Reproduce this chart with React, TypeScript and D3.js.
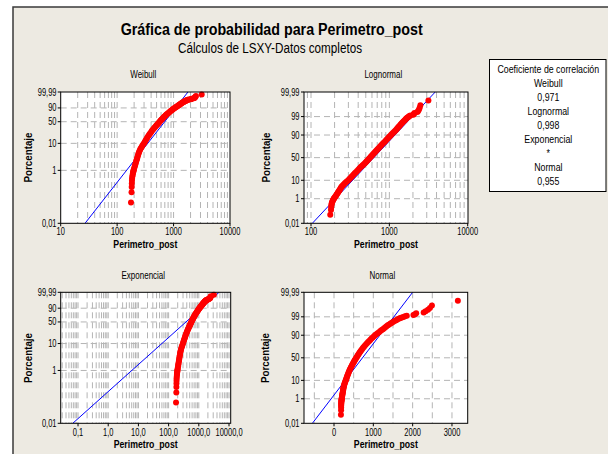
import React from 'react';
import * as d3 from 'd3';

// ---- data ----
const N = 1150; // sample size (approx.)
const rank = [
  1, 2, 3, 4, 5, 6, 7, 8, 9, 10, 11, 12, 13, 15, 17, 19, 21, 24, 27, 30, 34, 38, 43, 48, 54, 60, 67, 75, 84, 94,
  105, 117, 130, 145, 160, 177, 195, 215, 237, 260, 285, 310, 335, 360, 385, 410, 435, 460, 485, 510, 535, 560,
  592, 617, 642, 667, 692, 717, 742, 767, 792, 817, 842, 867, 892, 915, 937, 957, 975, 992, 1007, 1021, 1034,
  1046, 1057, 1067, 1076, 1084, 1091, 1097, 1103, 1108, 1113, 1117, 1121, 1124, 1127, 1130, 1132, 1134, 1136,
  1137, 1138, 1139, 1140, 1141, 1142, 1143, 1144, 1145, 1146, 1147, 1148, 1149, 1150,
];
const perimetro = [
  176, 180, 181, 182, 183, 184, 186, 188, 190, 192, 194, 196, 198, 202, 206, 209, 212, 216, 220, 223, 227, 231,
  235, 239, 243, 248, 255, 261, 270, 279, 289, 300, 309, 319, 329, 339, 350, 362, 374, 387, 401, 414, 428, 443,
  457, 472, 487, 501, 514, 528, 543, 557,
  576, 591, 607, 623, 640, 657, 675, 693, 713, 734, 757, 782, 810, 839, 868, 897, 925, 955, 983, 1013, 1043,
  1076, 1110, 1145, 1179, 1213, 1245, 1274, 1306, 1336, 1369, 1401, 1439, 1472, 1508, 1550, 1583, 1620, 1661,
  1690, 1725, 1765, 1805, 1850, 2020, 2060, 2090, 2280, 2330, 2390, 2440, 2490, 3150,
];

const distNames = ['Weibull', 'Lognormal', 'Exponencial', 'Normal'];
const corrValues = ['0,971', '0,998', '*', '0,955'];

// fitted lines: value at 0,01 % and at 99,99 %
const fitWeibull = [27, 1800];
const fitLognormal = [104, 3850];
const fitExponencial = [0.067, 4700];
const fitNormal = [-550, 2000];

const pctTicksA = [0.01, 1, 10, 50, 90, 99.99];
const pctLabelsA = ['0,01', '1', '10', '50', '90', '99,99'];
const pctTicksB = [0.01, 1, 10, 50, 90, 99, 99.99];
const pctLabelsB = ['0,01', '1', '10', '50', '90', '99', '99,99'];
const gridPctA = [1, 10, 50, 90];
const gridPctB = [1, 10, 50, 90, 99];

const weibullXTicks = [10, 100, 1000, 10000];
const weibullXLabels = ['10', '100', '1000', '10000'];
const lognormalXTicks = [100, 1000, 10000];
const lognormalXLabels = ['100', '1000', '10000'];
const expXTicks = [0.1, 1, 10, 100, 1000, 10000];
const expXLabels = ['0,1', '1,0', '10,0', '100,0', '1000,0', '10000,0'];
const normalXTicks = [0, 1000, 2000, 3000];
const normalXLabels = ['0', '1000', '2000', '3000'];
const normalXGrid = [-500, 0, 500, 1000, 1500, 2000, 2500, 3000];

// ---- helpers ----
function probit(p: number): number {
  const a = [-3.969683028665376e1, 2.209460984245205e2, -2.759285104469687e2, 1.38357751867269e2, -3.066479806614716e1, 2.506628277459239];
  const b = [-5.447609879822406e1, 1.615858368580409e2, -1.556989798598866e2, 6.680131188771972e1, -1.328068155288572e1];
  const c = [-7.784894002430293e-3, -3.223964580411365e-1, -2.400758277161838, -2.549732539343734, 4.374664141464968, 2.938163982698783];
  const d = [7.784695709041462e-3, 3.224671290700398e-1, 2.445134137142996, 3.754408661907416];
  const pl = 0.02425;
  if (p < pl) {
    const q = Math.sqrt(-2 * Math.log(p));
    return (((((c[0] * q + c[1]) * q + c[2]) * q + c[3]) * q + c[4]) * q + c[5]) / ((((d[0] * q + d[1]) * q + d[2]) * q + d[3]) * q + 1);
  }
  if (p > 1 - pl) {
    const q = Math.sqrt(-2 * Math.log(1 - p));
    return -(((((c[0] * q + c[1]) * q + c[2]) * q + c[3]) * q + c[4]) * q + c[5]) / ((((d[0] * q + d[1]) * q + d[2]) * q + d[3]) * q + 1);
  }
  const q = p - 0.5, r = q * q;
  return (((((a[0] * r + a[1]) * r + a[2]) * r + a[3]) * r + a[4]) * r + a[5]) * q / (((((b[0] * r + b[1]) * r + b[2]) * r + b[3]) * r + b[4]) * r + 1);
}
const sev = (p: number) => Math.log(-Math.log(1 - p));

function logGrid(domain: number[]) {
  const out: number[] = [];
  const lo = Math.floor(Math.log10(domain[0]));
  const hi = Math.ceil(Math.log10(domain[1]));
  for (let e = lo; e <= hi; e++) {
    for (let k = 1; k <= 9; k++) {
      const v = k * Math.pow(10, e);
      if (v > domain[0] * 1.02 && v < domain[1] / 1.02) out.push(v);
    }
  }
  return out;
}

const FONT = "'Liberation Sans', Arial, sans-serif";

const Txt = ({ x, y, children, size = 10, sx = 0.75, anchor = 'middle', weight = 'normal', rotate = 0, len }: any) => (
  <g transform={`translate(${x},${y}) rotate(${rotate}) scale(${sx},1)`}>
    <text
      textAnchor={anchor}
      fontSize={size}
      fontWeight={weight}
      fontFamily={FONT}
      fill="#000"
      {...(len ? { textLength: len / sx, lengthAdjust: 'spacingAndGlyphs' } : {})}
    >
      {children}
    </text>
  </g>
);

const BG = '#EDEAE2';
const GRID = '#B4B4B4';

const panels = [
  {
    id: 'w', title: distNames[0], titleX: 143.3, titleY: 77.5,
    left: 60.7, right: 230, top: 92, bottom: 223.3,
    x: d3.scaleLog().domain([10, 10000]).range([60.7, 230]),
    tf: sev, yTicks: pctTicksA, yLabels: pctLabelsA, hGrid: gridPctA,
    xTicks: weibullXTicks, xLabels: weibullXLabels, vGrid: logGrid([10, 10000]),
    fit: fitWeibull, yLabX: 56.5, yTitleX: 32, tickY: 235.2, axisTitleY: 248, yTitleY: 157.5,
  },
  {
    id: 'l', title: distNames[1], titleX: 383.3, titleY: 77.5,
    left: 304, right: 468, top: 92, bottom: 223.3,
    x: d3.scaleLog().domain([81.4, 10088]).range([304, 468]),
    tf: probit, yTicks: pctTicksB, yLabels: pctLabelsB, hGrid: gridPctB,
    xTicks: lognormalXTicks, xLabels: lognormalXLabels, vGrid: logGrid([81.4, 10088]),
    fit: fitLognormal, yLabX: 299.5, yTitleX: 269.7, tickY: 235.2, axisTitleY: 248, yTitleY: 157.5,
  },
  {
    id: 'e', title: distNames[2], titleX: 143.3, titleY: 278.5,
    left: 60.7, right: 230.7, top: 292.3, bottom: 423.3,
    x: d3.scaleLog().domain([0.0267, 11380]).range([60.7, 230.7]),
    tf: sev, yTicks: pctTicksA, yLabels: pctLabelsA, hGrid: gridPctA,
    xTicks: expXTicks, xLabels: expXLabels, vGrid: logGrid([0.0267, 11380]),
    fit: fitExponencial, yLabX: 56.5, yTitleX: 32, tickY: 435.5, axisTitleY: 447.7, yTitleY: 358,
  },
  {
    id: 'n', title: distNames[3], titleX: 382.3, titleY: 278.5,
    left: 304, right: 467.7, top: 292.3, bottom: 423.3,
    x: d3.scaleLinear().domain([-763, 3400]).range([304, 467.7]),
    tf: probit, yTicks: pctTicksB, yLabels: pctLabelsB, hGrid: gridPctB,
    xTicks: normalXTicks, xLabels: normalXLabels, vGrid: normalXGrid,
    fit: fitNormal, yLabX: 299.5, yTitleX: 268.7, tickY: 435.5, axisTitleY: 447.7, yTitleY: 358,
  },
];

function Panel({ p }: any) {
  const y = d3.scaleLinear().domain([p.tf(0.0001), p.tf(0.9999)]).range([p.bottom, p.top]);
  const yp = (pct: number) => y(p.tf(pct / 100));
  const pts = rank.map((r, i) => ({ v: perimetro[i], q: (r - 0.3) / (N + 0.4) }));
  const clipId = `clip-${p.id}`;
  const line = d3.line<number[]>().x((d) => d[0]).y((d) => d[1]);
  const fitPts = [
    [p.x(p.fit[0]), y(p.tf(0.0001))],
    [p.x(p.fit[1]), y(p.tf(0.9999))],
  ];
  return (
    <g>
      <defs>
        <clipPath id={clipId}>
          <rect x={p.left} y={p.top} width={p.right - p.left} height={p.bottom - p.top} />
        </clipPath>
      </defs>
      <rect x={p.left} y={p.top} width={p.right - p.left} height={p.bottom - p.top} fill="#fff" />
      {p.vGrid.map((v: number, i: number) => (
        <line key={'v' + i} x1={p.x(v)} x2={p.x(v)} y1={p.top} y2={p.bottom} stroke={GRID} strokeWidth={1} strokeDasharray="6,4" />
      ))}
      {p.hGrid.map((v: number, i: number) => (
        <line key={'h' + i} x1={p.left} x2={p.right} y1={yp(v)} y2={yp(v)} stroke={GRID} strokeWidth={1} strokeDasharray="6,4" />
      ))}
      <path d={line(fitPts as any) || ''} stroke="#0000FF" strokeWidth={1} fill="none" clipPath={`url(#${clipId})`} />
      {pts.map((d, i) => (
        <circle key={i} cx={p.x(d.v)} cy={y(p.tf(d.q))} r={3} fill="#FF0000" />
      ))}
      <rect x={p.left} y={p.top} width={p.right - p.left} height={p.bottom - p.top} fill="none" stroke="#000" strokeWidth={1} />
      {p.yTicks.map((v: number, i: number) => (
        <g key={'yt' + i}>
          <line x1={p.left - 3} x2={p.left} y1={yp(v)} y2={yp(v)} stroke="#000" />
          <Txt x={p.yLabX} y={yp(v) + 3.5} anchor="end">{p.yLabels[i]}</Txt>
        </g>
      ))}
      {p.xTicks.map((v: number, i: number) => (
        <g key={'xt' + i}>
          <line x1={p.x(v)} x2={p.x(v)} y1={p.bottom} y2={p.bottom + 3} stroke="#000" />
          <Txt x={p.x(v)} y={p.tickY}>{p.xLabels[i]}</Txt>
        </g>
      ))}
      <Txt x={p.titleX} y={p.titleY} sx={0.8}>{p.title}</Txt>
      <Txt x={(p.left + p.right) / 2} y={p.axisTitleY} size={10.5} weight="bold" sx={1} len={64}>Perimetro_post</Txt>
      <Txt x={p.yTitleX} y={p.yTitleY} size={10.5} weight="bold" sx={1} len={50} rotate={-90}>Porcentaje</Txt>
    </g>
  );
}

export default function App() {
  const legendLines: string[] = ['Coeficiente de correlación'];
  distNames.forEach((n, i) => { legendLines.push(n); legendLines.push(corrValues[i]); });
  return (
    <div style={{ position: 'absolute', left: 0, top: 0 }}>
      <svg width={608} height={454} style={{ display: 'block' }}>
        <rect x={0} y={0} width={608} height={454} fill="#fff" />
        <rect x={13} y={7} width={640} height={500} fill={BG} stroke="#3a3a3a" strokeWidth={1.5} />
        <Txt x={271.7} y={35} size={16} weight="bold" sx={1} len={302}>Gráfica de probabilidad para Perimetro_post</Txt>
        <Txt x={270} y={53} size={14} sx={1} len={184}>Cálculos de LSXY-Datos completos</Txt>
        {panels.map((p) => <Panel key={p.id} p={p} />)}
        <rect x={489.5} y={59.5} width={116.5} height={132} fill="#fff" stroke="#000" strokeWidth={1} />
        {legendLines.map((t, i) => (
          <Txt key={i} x={548.3} y={72.8 + 14 * i} size={11} sx={0.8}>{t}</Txt>
        ))}
      </svg>
    </div>
  );
}
